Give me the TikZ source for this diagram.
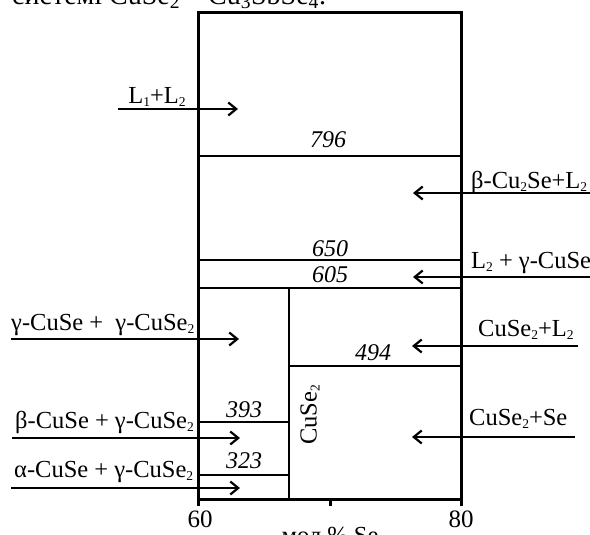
\documentclass[tikz,border=0pt]{standalone}
\usepackage{fontspec}
\setmainfont{Liberation Serif}
\usetikzlibrary{arrows.meta, positioning}

% small, low subscript as in the phase labels
\newcommand{\sbs}[1]{\raisebox{-3pt}{\fontsize{13.5}{14}\selectfont #1}}

\begin{document}
\begin{tikzpicture}[
    x=1pt, y=-1pt,
    every node/.style={font=\fontsize{24.5}{27}\selectfont, inner sep=0pt},
    frame/.style={line width=3pt},
    iso/.style={line width=2pt},
    arr/.style={-{Straight Barb[length=8pt, width=13pt, line width=2.2pt]}, line width=2.2pt},
    temp/.style={anchor=base, font=\fontsize{24}{26}\selectfont\itshape},
    phase/.style={anchor=base west},
]
\useasboundingbox (0,0) rectangle (590,535);

% caption line, cut off by the page
\node[anchor=base west, font=\fontsize{28}{30}\selectfont] (cap) at (12,4.5)
    {системі CuSe\textsubscript{2} – Cu\textsubscript{3}SbSe\textsubscript{4}.};

% frame and phase boundaries
\draw[frame] (198,13) rectangle (461,499);
\draw[iso] (198,156) -- (461,156);
\draw[iso] (198,260) -- (461,260);
\draw[iso] (198,288) -- (461,288);
\draw[iso] (289,288) -- (289,499);
\draw[iso] (289,366) -- (461,366);
\draw[iso] (198,422) -- (289,422);
\draw[iso] (198,475) -- (289,475);

% axis ticks
\draw[frame] (198,499) -- (198,506);
\draw[frame] (330,499) -- (330,506);
\draw[frame] (461,499) -- (461,506);

% temperatures
\node[temp] (t796) at (328,148) {796};
\node[temp] (t650) at (330,256) {650};
\node[temp] (t605) at (330,282) {605};
\node[temp] (t494) at (373,360) {494};
\node[temp] (t393) at (244,417) {393};
\node[temp] (t323) at (244,468) {323};

% phase fields
\node[anchor=base] (liq) at (157,103) {L\sbs{1}+L\sbs{2}};
\node[phase] (bcu2) at (471,188) {β-Cu\sbs{2}Se+L\sbs{2}};
\node[phase] (lgam) at (471,268) {L\sbs{2} + γ-CuSe};
\node[phase] (gg)   at (11,330)  {γ-CuSe +\ \ γ-CuSe\sbs{2}};
\node[phase] (cl)   at (478,336) {CuSe\sbs{2}+L\sbs{2}};
\node[phase] (bg)   at (15,428)  {β-CuSe + γ-CuSe\sbs{2}};
\node[phase] (cse)  at (469,425) {CuSe\sbs{2}+Se};
\node[phase] (ag)   at (14,477)  {α-CuSe + γ-CuSe\sbs{2}};
\node[rotate=90] (cuse2) at (310,415) {CuSe\sbs{2}};

% axis labels
\node[anchor=base, font=\fontsize{25}{28}\selectfont] (x60) at (200,527) {60};
\node[anchor=base, font=\fontsize{25}{28}\selectfont] (x80) at (461,527) {80};
\node[anchor=base] (xlab) at (330,543) {мол.\% Se};

% arrows into the fields
\coordinate (liqa) at (118,109);  \coordinate (liqb) at (238,109);
\coordinate (bcua) at (590,193);  \coordinate (bcub) at (413,193);
\coordinate (lgaa) at (590,277);  \coordinate (lgab) at (413,277);
\coordinate (gga)  at (11,339);   \coordinate (ggb)  at (239,339);
\coordinate (cla)  at (578,346);  \coordinate (clb)  at (412,346);
\coordinate (bga)  at (12,438);   \coordinate (bgb)  at (240,438);
\coordinate (csea) at (575,437);  \coordinate (cseb) at (412,437);
\coordinate (aga)  at (11,488);   \coordinate (agb)  at (240,488);

\draw[arr] (liqa) -- (liqb);
\draw[arr] (bcua) -- (bcub);
\draw[arr] (lgaa) -- (lgab);
\draw[arr] (gga)  -- (ggb);
\draw[arr] (cla)  -- (clb);
\draw[arr] (bga)  -- (bgb);
\draw[arr] (csea) -- (cseb);
\draw[arr] (aga)  -- (agb);
\end{tikzpicture}
\end{document}
